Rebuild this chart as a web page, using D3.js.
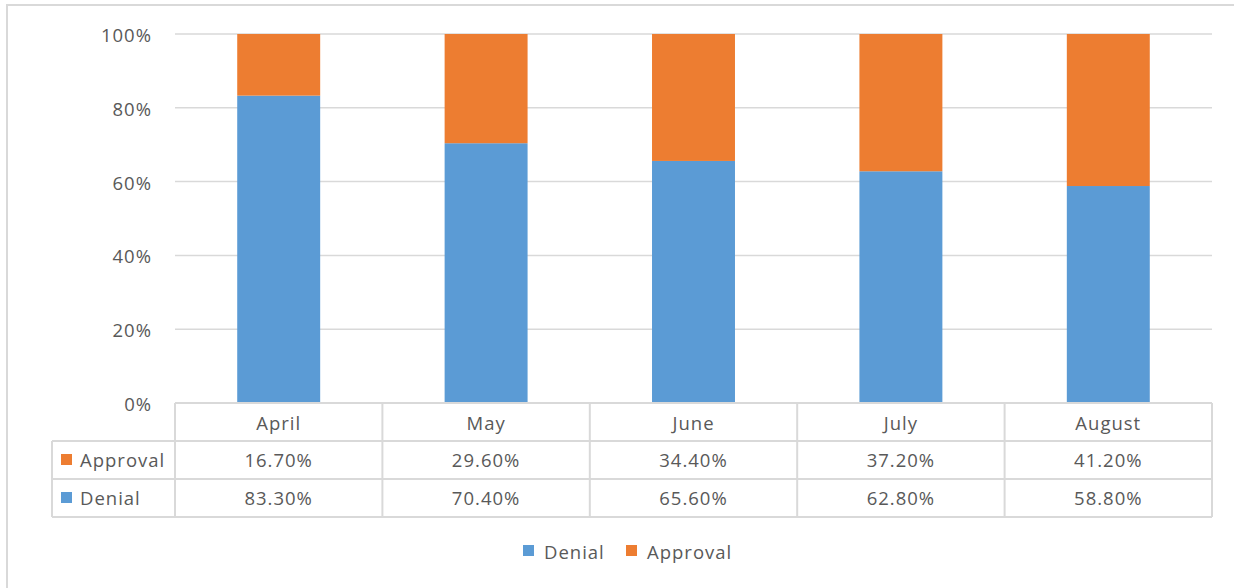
<!DOCTYPE html>
<html>
<head>
<meta charset="utf-8">
<script src="https://cdn.jsdelivr.net/npm/d3@7"></script>
<style>
  body { margin: 0; background: #fff; }
  svg text { font-family: "Open Sans", "Noto Sans", sans-serif; fill: #595959; }
</style>
</head>
<body>
<svg id="chart" width="1234" height="588"></svg>
<script>
// data
var months = ["April", "May", "June", "July", "August"];
var denial = [83.3, 70.4, 65.6, 62.8, 58.8];
var approval = [16.7, 29.6, 34.4, 37.2, 41.2];
var yTicks = [0, 20, 40, 60, 80, 100];
var seriesNames = ["Denial", "Approval"];
var colors = { Denial: "#5B9BD5", Approval: "#ED7D31" };

var svg = d3.select("#chart");

var plot = { l: 175, r: 1212, t: 34, b: 403 };
var rowH = 38;
var labelColL = 52;
var fontSize = "18.5px";
var spacing = "1px";

// outer frame
svg.append("rect")
    .attr("x", 7).attr("y", 5)
    .attr("width", 1240).attr("height", 600)
    .attr("fill", "none")
    .attr("stroke", "#D9D9D9")
    .attr("stroke-width", 2);

var xScale = d3.scaleBand().domain(months).range([plot.l, plot.r]).paddingInner(0.6).paddingOuter(0.3);
var colScale = d3.scaleBand().domain(months).range([plot.l, plot.r]);
var yScale = d3.scaleLinear().domain([0, 100]).range([plot.b, plot.t]);

// gridlines
svg.append("g")
    .selectAll("line")
    .data(yTicks.filter(d => d > 0))
    .enter()
    .append("line")
    .attr("x1", plot.l)
    .attr("x2", plot.r)
    .attr("y1", d => yScale(d))
    .attr("y2", d => yScale(d))
    .attr("stroke", "#D9D9D9")
    .attr("stroke-width", 1.5);

// y axis labels
var yAxis = d3.axisLeft(yScale).tickValues(yTicks).tickFormat(d => d + "%").tickSize(0).tickPadding(23);
var yg = svg.append("g")
    .attr("transform", "translate(" + plot.l + ",0)")
    .call(yAxis);
yg.select(".domain").remove();
yg.selectAll("text")
    .attr("dy", "0.4em")
    .style("font-size", fontSize)
    .style("letter-spacing", spacing)
    .style("font-family", "'Open Sans', sans-serif")
    .attr("fill", "#595959");

// stacked bars
var rows = months.map((m, i) => ({ month: m, Denial: denial[i], Approval: approval[i] }));
var stack = d3.stack().keys(seriesNames)(rows);

svg.append("g")
    .selectAll("g")
    .data(stack)
    .enter()
    .append("g")
    .attr("fill", d => colors[d.key])
    .selectAll("rect")
    .data(d => d)
    .enter()
    .append("rect")
    .attr("x", d => xScale(d.data.month))
    .attr("y", d => yScale(d[1]))
    .attr("width", xScale.bandwidth())
    .attr("height", d => yScale(d[0]) - yScale(d[1]));

// data table
var table = svg.append("g");
var lineColor = "#D9D9D9";
var tb = plot.b + rowH * 3;

// horizontal lines
table.append("line")
    .attr("x1", plot.l).attr("x2", plot.r)
    .attr("y1", plot.b).attr("y2", plot.b)
    .attr("stroke", lineColor).attr("stroke-width", 2);
[1, 2, 3].forEach(function (r) {
    table.append("line")
        .attr("x1", labelColL).attr("x2", plot.r)
        .attr("y1", plot.b + rowH * r).attr("y2", plot.b + rowH * r)
        .attr("stroke", lineColor).attr("stroke-width", 2);
});
// vertical lines
table.selectAll("line.col")
    .data(months.concat(["end"]))
    .enter()
    .append("line")
    .attr("class", "col")
    .attr("x1", d => d === "end" ? plot.r : colScale(d))
    .attr("x2", d => d === "end" ? plot.r : colScale(d))
    .attr("y1", plot.b)
    .attr("y2", tb)
    .attr("stroke", lineColor).attr("stroke-width", 2);
table.append("line")
    .attr("x1", labelColL).attr("x2", labelColL)
    .attr("y1", plot.b + rowH).attr("y2", tb)
    .attr("stroke", lineColor).attr("stroke-width", 2);

// header row
table.selectAll("text.hdr")
    .data(months)
    .enter()
    .append("text")
    .attr("class", "hdr")
    .attr("x", d => colScale(d) + colScale.bandwidth() / 2)
    .attr("y", plot.b + rowH / 2 + 8)
    .attr("text-anchor", "middle")
    .style("font-size", fontSize)
    .style("letter-spacing", spacing)
    .text(d => d);

// value rows
var tableRows = [
    { key: "Approval", values: approval },
    { key: "Denial", values: denial }
];
tableRows.forEach(function (row, r) {
    var cy = plot.b + rowH * (r + 1) + rowH / 2;
    table.append("rect")
        .attr("x", 61).attr("y", cy - 6)
        .attr("width", 11).attr("height", 11)
        .attr("fill", colors[row.key]);
    table.append("text")
        .attr("x", 80).attr("y", cy + 7)
        .style("font-size", fontSize)
        .style("letter-spacing", spacing)
        .text(row.key);
    table.selectAll("text.v" + r)
        .data(row.values)
        .enter()
        .append("text")
        .attr("x", (d, i) => colScale(months[i]) + colScale.bandwidth() / 2)
        .attr("y", cy + 7)
        .attr("text-anchor", "middle")
        .style("font-size", fontSize)
        .style("letter-spacing", spacing)
        .text(d => d.toFixed(2) + "%");
});

// legend
var legend = svg.append("g").attr("transform", "translate(523,551)");
var lx = 0;
seriesNames.forEach(function (name) {
    legend.append("rect")
        .attr("x", lx).attr("y", -6)
        .attr("width", 11).attr("height", 11)
        .attr("fill", colors[name]);
    legend.append("text")
        .attr("x", lx + 21).attr("y", 8)
        .style("font-size", fontSize)
        .style("letter-spacing", spacing)
        .text(name);
    lx += 103;
});
</script>
</body>
</html>
